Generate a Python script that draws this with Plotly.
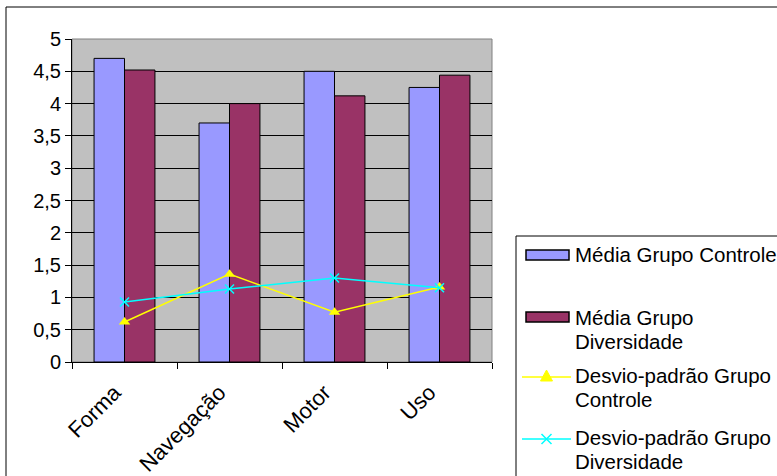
import plotly.graph_objects as go

categorias = ["Forma", "Navegação", "Motor", "Uso"]
media_controle = [4.7, 3.7, 4.5, 4.25]
media_diversidade = [4.52, 4.0, 4.12, 4.44]
desvio_controle = [0.62, 1.36, 0.77, 1.16]
desvio_diversidade = [0.93, 1.13, 1.30, 1.15]
y_ticks = [0, 0.5, 1, 1.5, 2, 2.5, 3, 3.5, 4, 4.5, 5]

nomes = [
    ["Média Grupo Controle"],
    ["Média Grupo", "Diversidade"],
    ["Desvio-padrão Grupo", "Controle"],
    ["Desvio-padrão Grupo", "Diversidade"],
]

FONT = "Liberation Sans"
COR_CONTROLE = "#9999FF"
COR_DIVERS = "#993366"
COR_AMARELO = "#FFFF00"
COR_CIANO = "#00FFFF"

# plot area in pixels (used to place the hand-drawn legend)
W, H = 777, 476
L, R, T, B = 72, 285, 39, 114
PW, PH = W - L - R, H - T - B


def px(x):
    return (x - L) / PW


def py(y):
    return (H - B - y) / PH


fig = go.Figure()
fig.add_trace(go.Bar(
    x=categorias, y=media_controle, name=" ".join(nomes[0]), showlegend=False,
    marker=dict(color=COR_CONTROLE, line=dict(color="black", width=1)),
))
fig.add_trace(go.Bar(
    x=categorias, y=media_diversidade, name=" ".join(nomes[1]), showlegend=False,
    marker=dict(color=COR_DIVERS, line=dict(color="black", width=1)),
))
fig.add_trace(go.Scatter(
    x=categorias, y=desvio_controle, name=" ".join(nomes[2]), showlegend=False,
    mode="lines+markers",
    line=dict(color=COR_AMARELO, width=1.5),
    marker=dict(symbol="triangle-up", size=10, color=COR_AMARELO),
))
fig.add_trace(go.Scatter(
    x=categorias, y=desvio_diversidade, name=" ".join(nomes[3]), showlegend=False,
    mode="lines+markers",
    line=dict(color=COR_CIANO, width=1.5),
    marker=dict(symbol="x-thin-open", size=9, color=COR_CIANO,
                line=dict(color=COR_CIANO, width=1.5)),
))

shapes = [
    # grey plot-area frame
    dict(type="rect", xref="paper", yref="paper", x0=0, x1=1, y0=0, y1=1,
         line=dict(color="#808080", width=1), layer="below"),
    # outer chart border
    dict(type="rect", xref="paper", yref="paper",
         x0=px(6), x1=px(900), y0=py(600), y1=py(7),
         line=dict(color="black", width=1)),
    # legend box
    dict(type="rect", xref="paper", yref="paper",
         x0=px(516), x1=px(900), y0=py(600), y1=py(236),
         line=dict(color="black", width=1), fillcolor="white"),
]

annotations = []
item_y = [255, 317, 375, 437]
sym_x0, sym_x1, text_x = 526, 569, 573

for i, (yc, linhas) in enumerate(zip(item_y, nomes)):
    if i < 2:
        cor = COR_CONTROLE if i == 0 else COR_DIVERS
        shapes.append(dict(type="rect", xref="paper", yref="paper",
                           x0=px(sym_x0), x1=px(sym_x1),
                           y0=py(yc + 5), y1=py(yc - 5),
                           fillcolor=cor, line=dict(color="black", width=1.5)))
    else:
        cor = COR_AMARELO if i == 2 else COR_CIANO
        ly = yc + 2
        shapes.append(dict(type="line", xref="paper", yref="paper",
                           x0=px(sym_x0 - 4), x1=px(sym_x1 + 2), y0=py(ly), y1=py(ly),
                           line=dict(color=cor, width=1.5)))
        mx = (sym_x0 + sym_x1) / 2 - 1
        if i == 2:
            path = (f"M {px(mx - 6)},{py(ly + 4)} L {px(mx + 6)},{py(ly + 4)} "
                    f"L {px(mx)},{py(ly - 7)} Z")
            shapes.append(dict(type="path", xref="paper", yref="paper", path=path,
                               fillcolor=cor, line=dict(color=cor, width=1)))
        else:
            path = (f"M {px(mx - 5)},{py(ly - 5)} L {px(mx + 5)},{py(ly + 5)} "
                    f"M {px(mx - 5)},{py(ly + 5)} L {px(mx + 5)},{py(ly - 5)}")
            shapes.append(dict(type="path", xref="paper", yref="paper", path=path,
                               line=dict(color=cor, width=1.5)))
    for k, texto in enumerate(linhas):
        annotations.append(dict(
            x=px(text_x), y=py(yc + 24 * k), xref="paper", yref="paper",
            text=texto, showarrow=False, xanchor="left", yanchor="middle",
            font=dict(family=FONT, size=20.5, color="black"),
        ))

fig.update_layout(
    width=W, height=H,
    margin=dict(l=L, r=R, t=T, b=B),
    paper_bgcolor="white",
    plot_bgcolor="#C0C0C0",
    separators=",.",
    barmode="group",
    bargap=0.42,
    bargroupgap=0,
    showlegend=False,
    font=dict(family=FONT, size=19, color="black"),
    xaxis=dict(
        type="category", tickangle=-45, automargin=False,
        ticks="outside", ticklen=6, tickcolor="black", tickson="boundaries",
        ticklabelstandoff=8, ticklabelshift=-10,
        showline=True, linecolor="black", linewidth=1,
        showgrid=False,
        tickfont=dict(family=FONT, size=22),
    ),
    yaxis=dict(
        range=[0, 5], tickvals=y_ticks, automargin=False,
        ticks="outside", ticklen=6, tickcolor="black",
        showline=True, linecolor="black", linewidth=1,
        showgrid=True, gridcolor="black", gridwidth=1,
        zeroline=False,
        tickfont=dict(family=FONT, size=20),
    ),
    shapes=shapes,
    annotations=annotations,
)

fig.write_html("out.html")
